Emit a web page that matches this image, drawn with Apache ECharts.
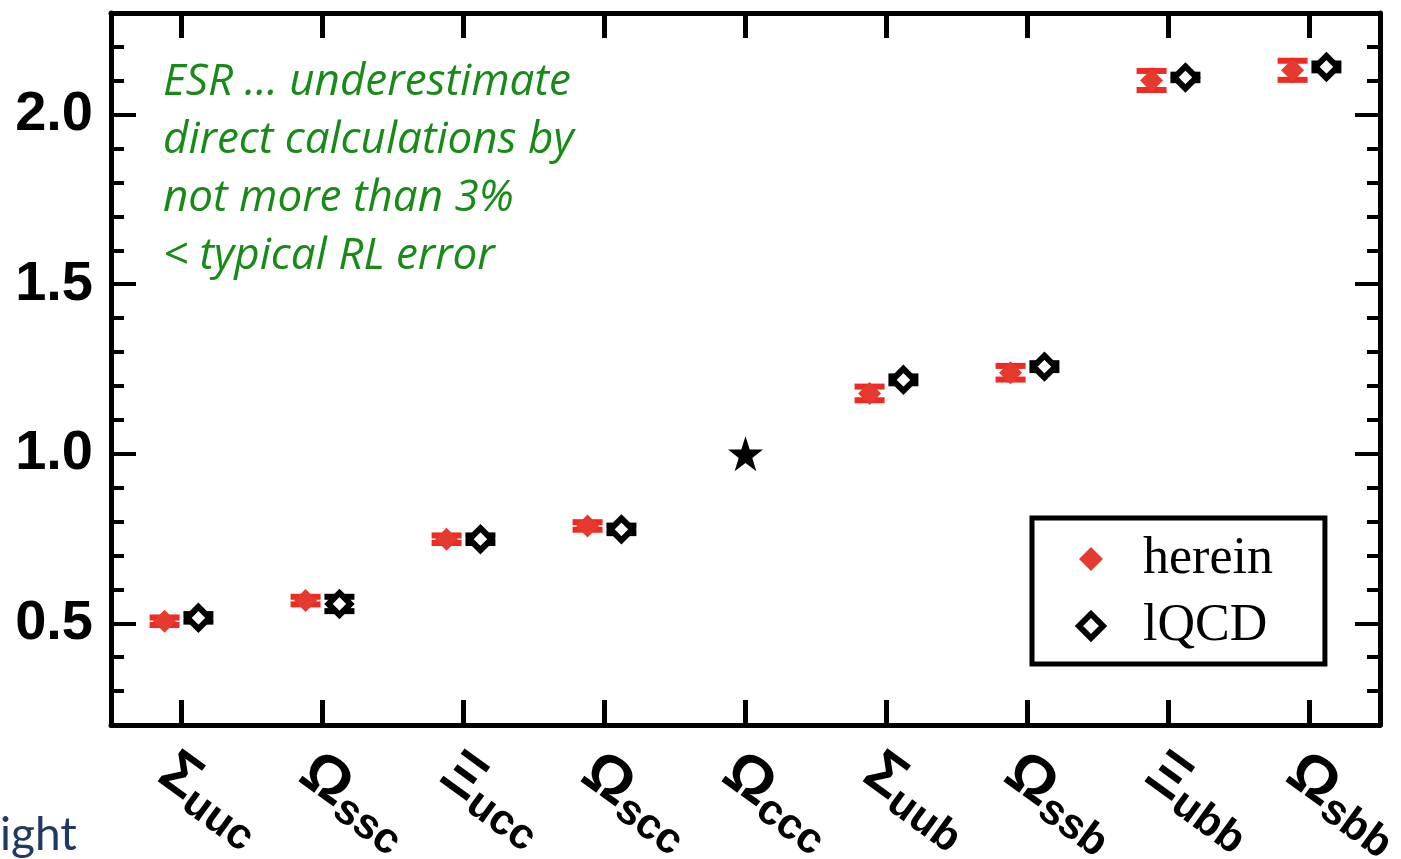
<!DOCTYPE html>
<html>
<head>
<meta charset="utf-8">
<script src="https://cdn.jsdelivr.net/npm/echarts@6/dist/echarts.min.js"></script>
<style>
  html, body { margin: 0; padding: 0; background: #fff; }
  #chart { width: 1401px; height: 859px; }
</style>
</head>
<body>
<div id="chart"></div>
<script>
// baryon labels: big greek letter + quark-content subscript
const greekLetters = ['Σ', 'Ω', 'Ξ', 'Ω', 'Ω', 'Σ', 'Ω', 'Ξ', 'Ω'];
const quarkContent = ['uuc', 'ssc', 'ucc', 'scc', 'ccc', 'uub', 'ssb', 'ubb', 'sbb'];
const categories = greekLetters.map((g, i) => g + quarkContent[i]);

// values (null = no point)
const hereinValues = [0.506, 0.567, 0.748, 0.787, null, 1.178, 1.239, 2.101, 2.131];
const hereinErrors = [0.020, 0.020, 0.020, 0.020, null, 0.029, 0.029, 0.037, 0.037];
const lqcdValues = [0.516, 0.557, 0.748, 0.777, null, 1.218, 1.257, 2.110, 2.141];
const lqcdErrors = [0.020, 0.030, 0.020, 0.020, null, 0.019, 0.019, 0.017, 0.019];
const referenceIndex = 4;
const referenceValue = 1.0;

const yMajorTicks = [0.5, 1.0, 1.5, 2.0];

const RED_BAR = '#ee2b22';
const RED_MARK = '#e43a2f';
const SHIFT = 0.12; // side-by-side offset in category units
const STAR = 'path://M50,0 L61.8,35.5 L99,35.5 L69,57.5 L80.4,93 L50,71 L19.6,93 L31,57.5 L1,35.5 L38.2,35.5 Z';

function pointData(values, shift) {
  return values.map((v, i) => v == null ? null : [i + shift, v]).filter(Boolean);
}
function errorData(values, errors, shift) {
  return values.map((v, i) => v == null ? null : [i + shift, v - errors[i], v + errors[i]]).filter(Boolean);
}
function errorBars(color) {
  return function (params, api) {
    const lo = api.coord([api.value(0), api.value(1)]);
    const hi = api.coord([api.value(0), api.value(2)]);
    const half = 15, thick = 6;
    const style = { fill: color, stroke: null };
    return {
      type: 'group',
      children: [
        { type: 'line', shape: { x1: lo[0], y1: lo[1], x2: hi[0], y2: hi[1] }, style: { stroke: color, lineWidth: 3 } },
        { type: 'rect', shape: { x: hi[0] - half, y: hi[1], width: half * 2, height: thick }, style },
        { type: 'rect', shape: { x: lo[0] - half, y: lo[1] - thick, width: half * 2, height: thick }, style }
      ]
    };
  };
}

const chart = echarts.init(document.getElementById('chart'), null, { renderer: 'canvas' });

const axisLine = { show: true, onZero: false, lineStyle: { color: '#000', width: 5 } };
const noLine = { show: false, onZero: false };
const catTick = { show: true, inside: true, alignWithLabel: true, length: 25, lineStyle: { color: '#000', width: 5 } };
const minorTick = { show: true, inside: true, length: 13, lineStyle: { color: '#000', width: 4 } };
const majorTick = { show: true, inside: true, length: 25, customValues: yMajorTicks, lineStyle: { color: '#000', width: 4 } };

chart.setOption({
  animation: false,
  backgroundColor: '#fff',
  grid: { left: 111, right: 21, top: 13, bottom: 134, containLabel: false, outerBoundsMode: 'none' },
  xAxis: [
    {
      type: 'category', position: 'bottom', data: categories, boundaryGap: true,
      axisLine, axisTick: catTick, splitLine: { show: false },
      axisLabel: {
        interval: 0, rotate: -36, margin: 53, color: '#000',
        padding: [0, 0, 0, -20],
        formatter: (v, i) => `{g|${greekLetters[i]}}{s|${quarkContent[i]}}`,
        rich: {
          g: { fontFamily: 'Liberation Sans', fontWeight: 'bold', fontSize: 60, color: '#000' },
          s: { fontFamily: 'Liberation Sans', fontWeight: 'bold', fontSize: 43, color: '#000', padding: [26, 0, 0, 0] }
        }
      }
    },
    {
      type: 'category', position: 'top', data: categories, boundaryGap: true,
      axisLine, axisTick: catTick, axisLabel: { show: false }, splitLine: { show: false }
    },
    { type: 'value', min: -0.5, max: 8.5, show: false, axisLine: noLine }
  ],
  yAxis: [
    {
      type: 'value', position: 'left', min: 0.2, max: 2.3,
      axisLine, axisTick: majorTick, splitLine: { show: false },
      axisLabel: {
        customValues: yMajorTicks, margin: 18, color: '#000',
        fontFamily: 'Liberation Sans', fontWeight: 'bold', fontSize: 56,
        formatter: (v) => v.toFixed(1)
      }
    },
    {
      type: 'value', position: 'left', min: 0.2, max: 2.3, interval: 0.1,
      axisLine: noLine, axisTick: minorTick, axisLabel: { show: false }, splitLine: { show: false }
    },
    {
      type: 'value', position: 'right', min: 0.2, max: 2.3,
      axisLine, axisTick: majorTick, axisLabel: { show: false }, splitLine: { show: false }
    },
    {
      type: 'value', position: 'right', min: 0.2, max: 2.3, interval: 0.1,
      axisLine: noLine, axisTick: minorTick, axisLabel: { show: false }, splitLine: { show: false }
    }
  ],
  legend: {
    orient: 'vertical', left: 1032, top: 518,
    padding: [15, 52, 12, 44], itemGap: 15, itemWidth: 24, itemHeight: 24,
    borderColor: '#000', borderWidth: 5, backgroundColor: '#fff',
    selectedMode: false,
    textStyle: { fontFamily: 'Liberation Serif', fontSize: 52, lineHeight: 52, color: '#000', padding: [0, 0, 0, 35] },
    data: [
      { name: 'herein', icon: 'diamond' },
      { name: 'lQCD', icon: 'diamond', itemStyle: { color: '#fff', borderColor: '#000', borderWidth: 6 } }
    ]
  },
  graphic: [
    {
      type: 'text', left: 163, top: 53,
      style: {
        text: 'ESR … underestimate\ndirect calculations by\nnot more than 3%\n< typical RL error',
        font: 'italic 44px "Open Sans"', lineHeight: 58, fill: '#178a17'
      }
    },
    {
      type: 'text', left: 0, top: 812,
      style: { text: 'ight', font: '46px Lato', fill: '#1f3864' }
    }
  ],
  series: [
    {
      name: 'herein-err', type: 'custom', xAxisIndex: 2, yAxisIndex: 0, z: 2,
      renderItem: errorBars(RED_BAR), data: errorData(hereinValues, hereinErrors, -SHIFT)
    },
    {
      name: 'lQCD-err', type: 'custom', xAxisIndex: 2, yAxisIndex: 0, z: 2,
      renderItem: errorBars('#000'), data: errorData(lqcdValues, lqcdErrors, SHIFT)
    },
    {
      name: 'herein', type: 'scatter', xAxisIndex: 2, yAxisIndex: 0, z: 3,
      symbol: 'diamond', symbolSize: 23,
      itemStyle: { color: RED_MARK, opacity: 1 },
      data: pointData(hereinValues, -SHIFT)
    },
    {
      name: 'lQCD', type: 'scatter', xAxisIndex: 2, yAxisIndex: 0, z: 3,
      symbol: 'diamond', symbolSize: 22,
      itemStyle: { color: '#fff', borderColor: '#000', borderWidth: 6, opacity: 1 },
      data: pointData(lqcdValues, SHIFT)
    },
    {
      name: 'reference', type: 'scatter', xAxisIndex: 2, yAxisIndex: 0, z: 3,
      symbol: STAR, symbolSize: 35,
      itemStyle: { color: '#000', opacity: 1 },
      data: [[referenceIndex, referenceValue]]
    }
  ]
});
</script>
</body>
</html>
